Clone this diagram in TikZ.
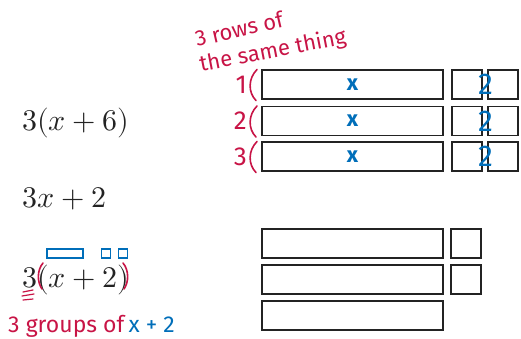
\documentclass[tikz,border=0pt]{standalone}
\usepackage{fontspec}
\usepackage{unicode-math}
\setmathfont{Latin Modern Math}
\newfontfamily\hand{Fira Sans}
\definecolor{pen}{RGB}{200,20,70}
\definecolor{bpen}{RGB}{0,110,185}
\definecolor{ink}{RGB}{35,35,35}
\begin{document}
\begin{tikzpicture}[x=1pt,y=-1pt,
  box/.style={draw=ink,line width=1.6pt,inner sep=0pt},
  bigbox/.style={box,minimum width=181pt,minimum height=29pt},
  smallbox/.style={box,minimum width=30pt,minimum height=29pt},
  mathtxt/.style={text=ink,inner sep=0pt,font=\fontsize{30}{36}\selectfont},
  redtxt/.style={text=pen,inner sep=0pt,font=\hand\fontsize{22}{24}\selectfont},
  bluetxt/.style={text=bpen,inner sep=0pt,font=\hand\fontsize{22}{24}\selectfont},
  bluebox/.style={draw=bpen,line width=1.2pt,inner sep=0pt,minimum height=9pt},
  redstroke/.style={draw=pen,line width=1.6pt,line cap=round}]
\useasboundingbox (0,0) rectangle (521,338);
% top rows
\foreach \i/\y in {1/84.5,2/121,3/156.5}{
  \node[bigbox] (b\i) at (352.5,\y) {};
  \node[smallbox] (s\i) at (467,\y) {};
  \node[smallbox] (t\i) at (503,\y) {};
  \node[bluetxt,font=\hand\bfseries\fontsize{22}{24}\selectfont] (x\i) at (b\i) {x};
  \node[bluetxt,font=\hand\fontsize{30}{32}\selectfont] (two\i) at (485.5,\y) {2};
  \node[redtxt,font=\hand\fontsize{26}{28}\selectfont,anchor=east] (n\i) at (247,\y) {\i};
  \draw[redstroke] (257,\y-15) .. controls (248,\y-6) and (248,\y+8) .. (256,\y+16);
}
% heading
\begin{scope}[shift={(197,47)},rotate=13,transform shape]
\node[redtxt,anchor=base west] (h1) at (0,0) {3 rows of};
\end{scope}
\begin{scope}[shift={(201,72)},rotate=11,transform shape]
\node[redtxt,anchor=base west] (h2) at (0,0) {the same thing};
\end{scope}
% left expressions
\node[mathtxt,anchor=base west] (e1) at (22,130) {$3(x+6)$};
\node[mathtxt,anchor=base west] (e2) at (22,207) {$3x+2$};
\node[mathtxt,anchor=base west] (e3) at (22,287) {$3(x+2)$};
% blue marks above
\node[bluebox,minimum width=36pt] (m1) at (65,253.5) {};
\node[bluebox,minimum width=9pt] (m2) at (106,253.5) {};
\node[bluebox,minimum width=9pt] (m3) at (123,253.5) {};
% red parens and underline
\draw[redstroke] (43,263) .. controls (37,270) and (37,282) .. (42,289);
\draw[redstroke] (123,263) .. controls (129,270) and (129,282) .. (124,289);
\draw[redstroke,line width=1.2pt] (23,292) -- (33,290);
\draw[redstroke,line width=1.2pt] (22,296) -- (34,294);
\draw[redstroke,line width=1.2pt] (23,300) -- (33,299);
% caption
\node[redtxt,font=\hand\fontsize{23}{25}\selectfont,anchor=base west] (c1) at (8,332) {3 groups of};
\node[bluetxt,font=\hand\fontsize{23}{25}\selectfont,anchor=base west] (c2) at (c1.base east) {\,x + 2};
% bottom rows
\node[bigbox] (d1) at (352.5,243.5) {};
\node[smallbox] (u1) at (466,243.5) {};
\node[bigbox] (d2) at (352.5,279.5) {};
\node[smallbox] (u2) at (466,279.5) {};
\node[bigbox] (d3) at (352.5,315.5) {};
\end{tikzpicture}
\end{document}
